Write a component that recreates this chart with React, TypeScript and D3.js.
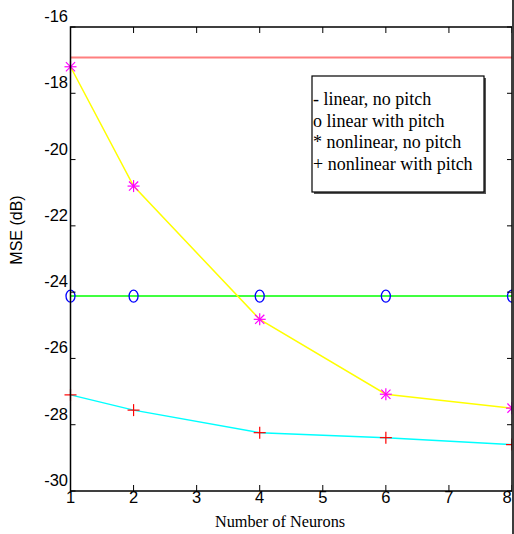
import React from "react";
import * as d3 from "d3";

// values
const neurons = [1, 2, 4, 6, 8];
const linearNoPitch = [-16.92, -16.92, -16.92, -16.92, -16.92];
const linearPitch = [-24.12, -24.12, -24.12, -24.12, -24.12];
const nonlinearNoPitch = [-17.2, -20.8, -24.82, -27.08, -27.5];
const nonlinearPitch = [-27.1, -27.56, -28.24, -28.39, -28.6];

const xTicks = [1, 2, 3, 4, 5, 6, 7, 8];
const yTicks = [-16, -18, -20, -22, -24, -26, -28, -30];
const legendLabels = [
  "- linear, no pitch",
  "o linear with pitch",
  "* nonlinear, no pitch",
  "+ nonlinear with pitch",
];

const W = 514;
const H = 534;
const left = 70.5;
const right = 512;
const top = 27;
const bottom = 491;

const x = d3.scaleLinear().domain([1, 8]).range([left, right]);
const y = d3.scaleLinear().domain([-30, -16]).range([bottom, top]);

const sans = "'Liberation Sans', Arial, sans-serif";
const serif = "'Liberation Serif', 'Times New Roman', serif";

const lineGen = d3
  .line<[number, number]>()
  .x((d) => x(d[0]))
  .y((d) => y(d[1]));

const pts = (vals: number[]) => neurons.map((n, i) => [n, vals[i]] as [number, number]);

const Star = ({ cx, cy }: { cx: number; cy: number }) => {
  const r = 6;
  const d = 4.6;
  return (
    <g stroke="#ff00ff" strokeWidth={1.2}>
      <line x1={cx - r} y1={cy} x2={cx + r} y2={cy} />
      <line x1={cx} y1={cy - r} x2={cx} y2={cy + r} />
      <line x1={cx - d} y1={cy - d} x2={cx + d} y2={cy + d} />
      <line x1={cx - d} y1={cy + d} x2={cx + d} y2={cy - d} />
    </g>
  );
};

const Plus = ({ cx, cy }: { cx: number; cy: number }) => {
  const r = 6;
  return (
    <g stroke="#ff0000" strokeWidth={1.2}>
      <line x1={cx - r} y1={cy} x2={cx + r} y2={cy} />
      <line x1={cx} y1={cy - r} x2={cx} y2={cy + r} />
    </g>
  );
};

export default function App() {
  return (
    <svg
      width={W}
      height={H}
      style={{ position: "absolute", left: 0, top: 0, background: "#fff" }}
    >
      <rect width={W} height={H} fill="#fff" />

      {/* series */}
      <path d={lineGen(pts(linearNoPitch))!} fill="none" stroke="#ff7f7f" strokeWidth={2} />
      <path d={lineGen(pts(linearPitch))!} fill="none" stroke="#00ff00" strokeWidth={1.5} />
      {pts(linearPitch).map((p, i) => (
        <ellipse key={"o" + i} cx={x(p[0])} cy={y(p[1])} rx={4.5} ry={6} fill="none" stroke="#0000ff" strokeWidth={1.3} />
      ))}
      <path d={lineGen(pts(nonlinearNoPitch))!} fill="none" stroke="#ffff00" strokeWidth={1.5} />
      {pts(nonlinearNoPitch).map((p, i) => (
        <Star key={"s" + i} cx={x(p[0])} cy={y(p[1])} />
      ))}
      <path d={lineGen(pts(nonlinearPitch))!} fill="none" stroke="#00ffff" strokeWidth={1.5} />
      {pts(nonlinearPitch).map((p, i) => (
        <Plus key={"p" + i} cx={x(p[0])} cy={y(p[1])} />
      ))}

      {/* frame */}
      <rect x={left} y={top} width={right - left} height={bottom - top} fill="none" stroke="#000" strokeWidth={1.5} />

      {/* x ticks */}
      {xTicks.map((t) => (
        <g key={"xt" + t}>
          <line x1={x(t)} x2={x(t)} y1={bottom} y2={bottom - 6} stroke="#000" />
          <line x1={x(t)} x2={x(t)} y1={top} y2={top + 6} stroke="#000" />
          <text x={Math.min(x(t), 507)} y={503} textAnchor="middle" fontFamily={sans} fontSize={16.5}>
            {t}
          </text>
        </g>
      ))}

      {/* y ticks */}
      {yTicks.map((t) => (
        <g key={"yt" + t}>
          <line x1={left} x2={left + 5} y1={y(t)} y2={y(t)} stroke="#000" />
          <line x1={right} x2={right - 5} y1={y(t)} y2={y(t)} stroke="#000" />
          <text x={68} y={y(t) - 5} textAnchor="end" fontFamily={sans} fontSize={16.5}>
            {t}
          </text>
        </g>
      ))}

      {/* right edge band */}
      <rect x={512} y={0} width={2} height={H} fill="#3c3c3c" />

      {/* axis labels */}
      <text x={280} y={527} textAnchor="middle" fontFamily={serif} fontSize={16.3}>
        Number of Neurons
      </text>
      <text
        transform={`translate(22, 230) rotate(-90)`}
        textAnchor="middle"
        fontFamily={sans}
        fontSize={16}
      >
        MSE (dB)
      </text>

      {/* legend */}
      <rect x={314} y={78} width={172} height={116} fill="#555" />
      <rect x={312} y={76} width={172} height={116} fill="#fff" stroke="#000" strokeWidth={1.2} />
      {legendLabels.map((l, i) => (
        <text key={l} x={313} y={105 + i * 21.5} fontFamily={serif} fontSize={18}>
          {l}
        </text>
      ))}
    </svg>
  );
}
